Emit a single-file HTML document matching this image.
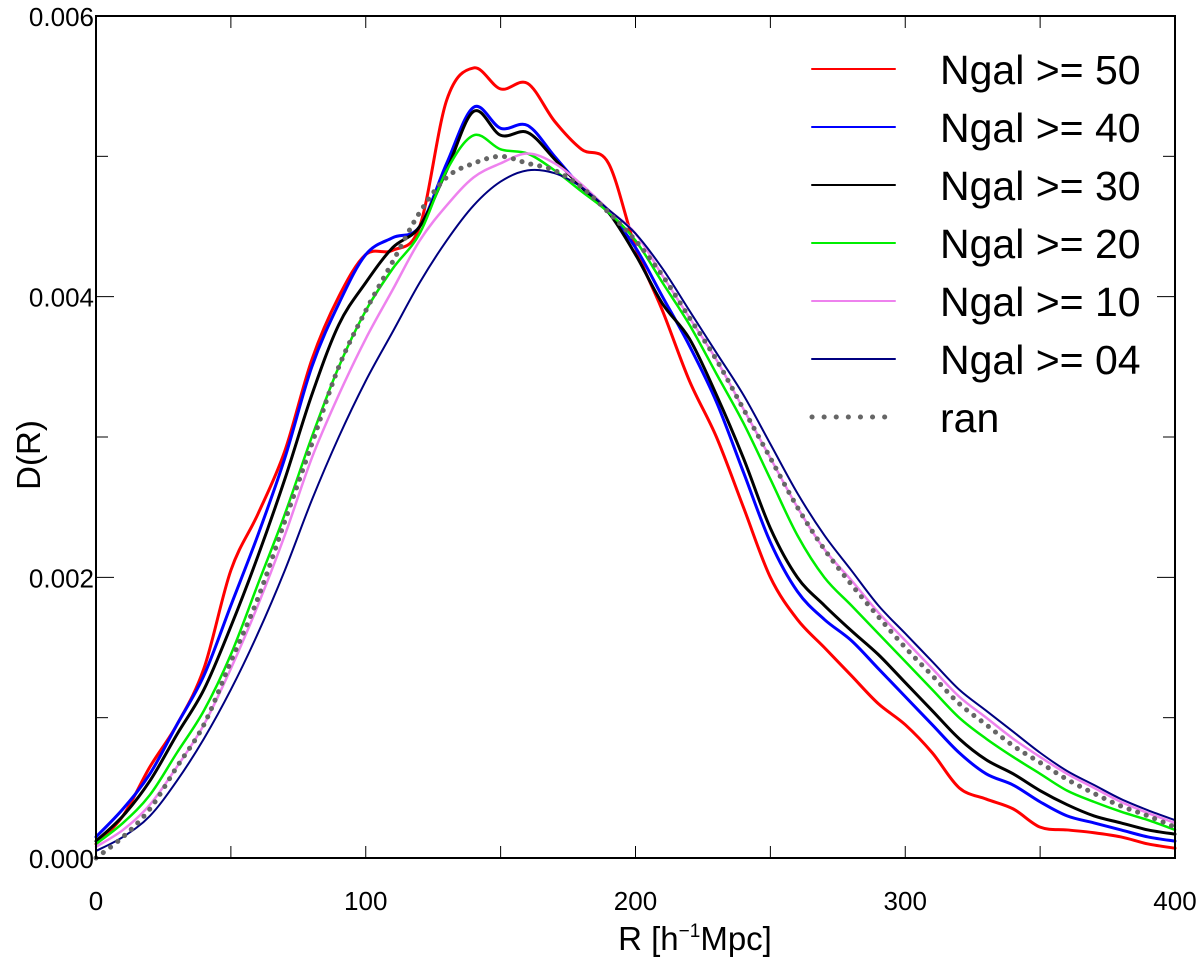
<!DOCTYPE html>
<html><head><meta charset="utf-8"><style>
body{margin:0;background:#fff}
svg{display:block;font-family:"Liberation Sans",sans-serif}
</style></head><body>
<svg id="chart" width="1200" height="963" viewBox="0 0 1200 963">
<g id="series-layer"></g>
<rect x="96" y="16" width="1079" height="842" fill="none" stroke="#000" stroke-width="2"/>
<g id="axes"></g>
<text x="40" y="455" font-size="33" text-anchor="middle" transform="rotate(-90 40 455)">D(R)</text>
<text x="695" y="950" font-size="33" text-anchor="middle">R [h<tspan dy="-13" font-size="19">−1</tspan><tspan dy="13">Mpc]</tspan></text>
<g id="legend"></g>
</svg>
<script>
const R = [0,10,20,30,40,50,60,70,80,90,100,110,120,130,140,150,160,170,180,190,200,210,220,230,240,250,260,270,280,290,300,310,320,330,340,350,360,370,380,390,400];
const seriesNames = ["Ngal >= 50","Ngal >= 40","Ngal >= 30","Ngal >= 20","Ngal >= 10","Ngal >= 04","ran"];
const n50 = [0.1,0.3,0.65,0.95,1.35,2.05,2.45,2.9,3.55,4.0,4.3,4.33,4.5,5.4,5.63,5.48,5.52,5.25,5.05,4.95,4.35,3.9,3.4,3.0,2.5,2.0,1.7,1.5,1.3,1.1,0.95,0.75,0.5,0.42,0.35,0.22,0.2,0.18,0.15,0.1,0.07];
const n40 = [0.15,0.35,0.6,0.95,1.3,1.8,2.3,2.85,3.5,3.95,4.3,4.42,4.5,4.95,5.35,5.2,5.22,5.0,4.78,4.6,4.35,4.0,3.65,3.25,2.75,2.25,1.9,1.7,1.55,1.35,1.15,0.95,0.75,0.6,0.52,0.4,0.3,0.25,0.2,0.15,0.12];
const n30 = [0.12,0.3,0.55,0.88,1.2,1.65,2.15,2.7,3.3,3.8,4.1,4.35,4.5,4.9,5.32,5.15,5.17,4.98,4.78,4.6,4.3,3.95,3.7,3.3,2.85,2.35,2.0,1.8,1.62,1.45,1.25,1.05,0.85,0.7,0.6,0.48,0.38,0.3,0.25,0.2,0.17];
const n20 = [0.1,0.25,0.45,0.75,1.05,1.45,1.95,2.45,3.0,3.5,3.9,4.2,4.45,4.9,5.15,5.05,5.02,4.9,4.75,4.6,4.4,4.1,3.8,3.45,3.1,2.7,2.3,2.0,1.8,1.6,1.4,1.2,1.0,0.85,0.72,0.6,0.48,0.4,0.33,0.27,0.2];
const n10 = [0.08,0.2,0.38,0.65,0.95,1.35,1.8,2.3,2.85,3.3,3.7,4.05,4.4,4.65,4.85,4.95,5.02,4.95,4.8,4.62,4.45,4.15,3.85,3.55,3.2,2.85,2.5,2.2,1.98,1.75,1.55,1.35,1.15,1.0,0.85,0.72,0.6,0.5,0.4,0.32,0.25];
const n04 = [0.05,0.15,0.3,0.55,0.85,1.2,1.6,2.05,2.55,3.0,3.4,3.75,4.1,4.4,4.65,4.82,4.9,4.88,4.78,4.62,4.45,4.2,3.9,3.6,3.3,2.95,2.6,2.3,2.05,1.8,1.6,1.4,1.2,1.05,0.9,0.75,0.62,0.52,0.42,0.34,0.27];
const ran = [0.0,0.15,0.35,0.65,0.95,1.4,1.85,2.4,2.95,3.5,3.9,4.25,4.6,4.85,4.95,5.0,4.95,4.9,4.78,4.6,4.4,4.15,3.85,3.55,3.2,2.85,2.5,2.2,1.95,1.72,1.5,1.3,1.1,0.95,0.8,0.68,0.56,0.46,0.37,0.3,0.22];
const xTicks = [0,100,200,300,400];
const xMinor = [50,150,250,350];
const yTicks = [0,2,4,6];
const yTickLabels = ["0.000","0.002","0.004","0.006"];
const yMinor = [1,3,5];

const NS="http://www.w3.org/2000/svg";
const xs = v => 96 + v*(1079/400);
const ys = v => 858 - v*(842/6);
function mk(tag, attrs, parent){const e=document.createElementNS(NS,tag);for(const k in attrs)e.setAttribute(k,attrs[k]);parent.appendChild(e);return e;}
function pathFor(vals){
  const p = R.map((r,i)=>[xs(r),ys(vals[i])]);
  let d = "M"+p[0][0]+","+p[0][1];
  for(let i=0;i<p.length-1;i++){
    const p0=p[Math.max(0,i-1)],p1=p[i],p2=p[i+1],p3=p[Math.min(p.length-1,i+2)];
    const c1=[p1[0]+(p2[0]-p0[0])/6,p1[1]+(p2[1]-p0[1])/6];
    const c2=[p2[0]-(p3[0]-p1[0])/6,p2[1]-(p3[1]-p1[1])/6];
    d+=" C"+c1[0]+","+c1[1]+" "+c2[0]+","+c2[1]+" "+p2[0]+","+p2[1];
  }
  return d;
}
const layer=document.getElementById("series-layer");
const styles=[["#ff0000",3,null,n50,"line-ngal-50"],["#0000ff",3,null,n40,"line-ngal-40"],["#000000",3,null,n30,"line-ngal-30"],["#00ee00",2.5,null,n20,"line-ngal-20"],["#ee82ee",2.5,null,n10,"line-ngal-10"],["#000080",2,null,n04,"line-ngal-04"],["#666666",5,"0.1 9",ran,"line-ran"]];
styles.forEach(s=>{
  const el=mk("path",{d:pathFor(s[3]),fill:"none",stroke:s[0],"stroke-width":s[1],"stroke-linecap":"round"},layer);
  if(s[2])el.setAttribute("stroke-dasharray",s[2]);
  
  
});
const axes=document.getElementById("axes");
xTicks.forEach(t=>{
  const l=mk("line",{x1:xs(t),x2:xs(t),y1:858,y2:846,stroke:"#000","stroke-width":1},axes);
  
  
  const l2=mk("line",{x1:xs(t),x2:xs(t),y1:16,y2:28,stroke:"#000","stroke-width":1},axes);
  
  
  const tx=mk("text",{x:xs(t),y:910,"font-size":26,"text-anchor":"middle"},axes);
  tx.textContent=t;
  
  
});
xMinor.forEach(t=>{
  const l=mk("line",{x1:xs(t),x2:xs(t),y1:858,y2:846,stroke:"#000","stroke-width":1},axes);
  
  
  const l2=mk("line",{x1:xs(t),x2:xs(t),y1:16,y2:28,stroke:"#000","stroke-width":1},axes);
  
  
});
yTicks.forEach((t,i)=>{
  const l=mk("line",{x1:96,x2:114,y1:ys(t),y2:ys(t),stroke:"#000","stroke-width":1},axes);
  
  
  const l2=mk("line",{x1:1157,x2:1175,y1:ys(t),y2:ys(t),stroke:"#000","stroke-width":1},axes);
  
  
  const tx=mk("text",{x:94,y:ys(t)+10,"font-size":26,"text-anchor":"end"},axes);
  tx.textContent=yTickLabels[i];
  
  
});
yMinor.forEach(t=>{
  const l=mk("line",{x1:96,x2:108,y1:ys(t),y2:ys(t),stroke:"#000","stroke-width":1},axes);
  
  
  const l2=mk("line",{x1:1163,x2:1175,y1:ys(t),y2:ys(t),stroke:"#000","stroke-width":1},axes);
  
  
});
const leg=document.getElementById("legend");
styles.forEach((s,i)=>{
  const y=69+i*58;
  const l=mk("line",{x1:812,x2:895,y1:y,y2:y,stroke:s[0],"stroke-width":i==6?5:2,"stroke-linecap":"round"},leg);
  if(s[2])l.setAttribute("stroke-dasharray","0.1 12");
  
  
  const tx=mk("text",{x:940,y:y+15,"font-size":41},leg);
  tx.textContent=seriesNames[i];
  
  
});
</script>
</body></html>
